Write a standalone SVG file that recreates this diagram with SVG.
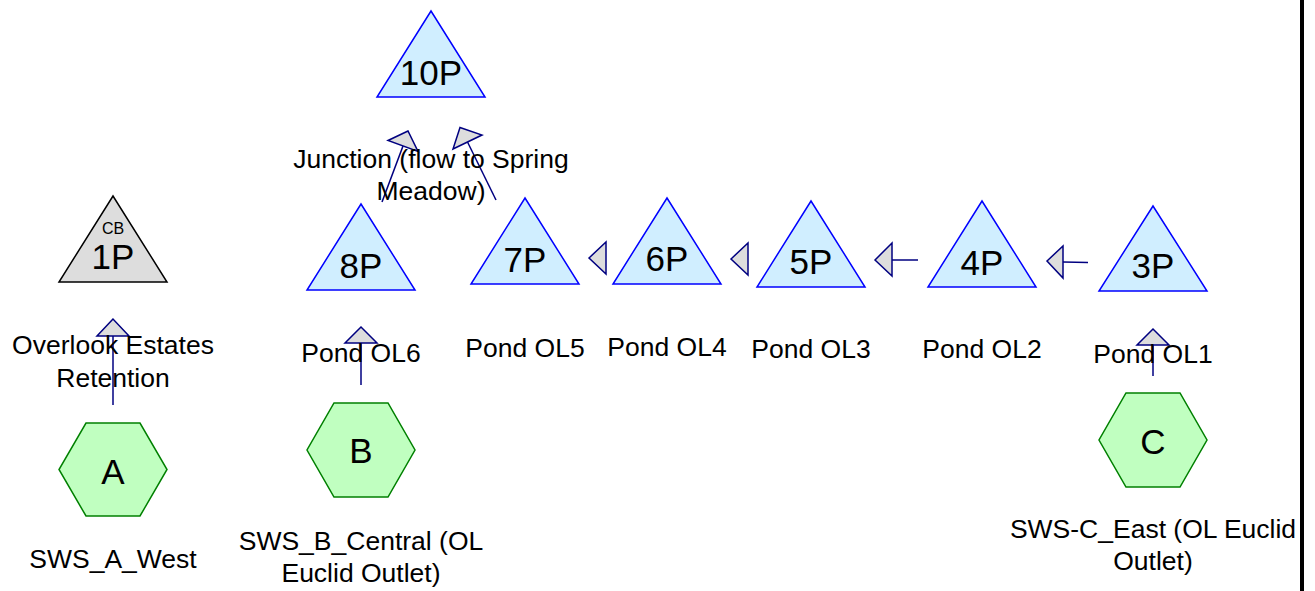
<svg xmlns="http://www.w3.org/2000/svg" width="1315" height="591" viewBox="0 0 1315 591">
<style>
text{font-family:"Liberation Sans",Arial,sans-serif;fill:#000;text-anchor:middle}
.pond{fill:#d0eeff;stroke:#0000ff;stroke-width:1.5}
.cb{fill:#dddddd;stroke:#000;stroke-width:1.5}
.sub{fill:#c0ffc0;stroke:#008000;stroke-width:1.5}
.nl{font-size:35px}
.lb{font-size:26.5px}
.small{font-size:16px}
.ln{stroke:#000080;stroke-width:1.5;fill:none}
.ah{fill:#dddddd;stroke:#000080;stroke-width:1.5;stroke-linejoin:miter}
</style>
<rect x="0" y="0" width="1315" height="591" fill="#fff"/>
<rect x="1300" y="0" width="4" height="591" fill="#000"/>

<g id="connectors">
  <g id="A-1P"><line class="ln" x1="113" y1="405" x2="113" y2="336"/><polygon class="ah" points="113,319 97,336 129,336"/></g>
  <g id="B-8P"><line class="ln" x1="361" y1="385" x2="361" y2="343"/><polygon class="ah" points="361,327 345,343 377,343"/></g>
  <g id="C-3P"><line class="ln" x1="1153" y1="376" x2="1153" y2="345"/><polygon class="ah" points="1153,329 1137,345 1169,345"/></g>
  <g id="3P-4P"><line class="ln" x1="1088" y1="262.5" x2="1063" y2="262"/><polygon class="ah" points="1047,261 1063,246 1063,278"/></g>
  <g id="4P-5P"><line class="ln" x1="918" y1="260" x2="892" y2="260"/><polygon class="ah" points="875,260 892,243 892,276"/></g>
  <g id="5P-6P"><polygon class="ah" points="731,259 748,243 748,275"/></g>
  <g id="6P-7P"><polygon class="ah" points="589,258 606,242 606,274"/></g>
  <g id="8P-10P"><line class="ln" x1="382" y1="202" x2="403" y2="146"/><polygon class="ah" points="408,131 388,140.5 418,151.5"/></g>
  <g id="7P-10P"><line class="ln" x1="496" y1="200" x2="467.5" y2="142"/><polygon class="ah" points="460,127.5 453,149 482,135"/></g>
</g>

<g id="node-10P">
  <polygon class="pond" points="431,11 485,97 377,97"/>
  <text class="nl" x="431" y="85">10P</text>
  <text class="lb" x="431" y="168">Junction (flow to Spring</text>
  <text class="lb" x="431" y="200">Meadow)</text>
</g>
<g id="node-1P">
  <polygon class="cb" points="113,196 167,282 59,282"/>
  <text class="small" x="113" y="234">CB</text>
  <text class="nl" x="113" y="269">1P</text>
  <text class="lb" x="113" y="354">Overlook Estates</text>
  <text class="lb" x="113" y="387">Retention</text>
</g>
<g id="node-8P">
  <polygon class="pond" points="361,204 415,290 307,290"/>
  <text class="nl" x="361" y="278">8P</text>
  <text class="lb" x="361" y="362">Pond OL6</text>
</g>
<g id="node-7P">
  <polygon class="pond" points="525,198 579,284 471,284"/>
  <text class="nl" x="525" y="272">7P</text>
  <text class="lb" x="525" y="357">Pond OL5</text>
</g>
<g id="node-6P">
  <polygon class="pond" points="667,198 721,284 613,284"/>
  <text class="nl" x="667" y="271">6P</text>
  <text class="lb" x="667" y="356">Pond OL4</text>
</g>
<g id="node-5P">
  <polygon class="pond" points="811,201 865,287 757,287"/>
  <text class="nl" x="811" y="274">5P</text>
  <text class="lb" x="811" y="358">Pond OL3</text>
</g>
<g id="node-4P">
  <polygon class="pond" points="982,201 1036,287 928,287"/>
  <text class="nl" x="982" y="275">4P</text>
  <text class="lb" x="982" y="358">Pond OL2</text>
</g>
<g id="node-3P">
  <polygon class="pond" points="1153,206 1207,291 1099,291"/>
  <text class="nl" x="1153" y="278">3P</text>
  <text class="lb" x="1153" y="363">Pond OL1</text>
</g>
<g id="node-A">
  <polygon class="sub" points="86,423 140,423 167,469.5 140,516 86,516 59,469.5"/>
  <text class="nl" x="113" y="484">A</text>
  <text class="lb" x="113" y="568">SWS_A_West</text>
</g>
<g id="node-B">
  <polygon class="sub" points="334,403 388,403 415,450 388,497 334,497 307,450"/>
  <text class="nl" x="361" y="463">B</text>
  <text class="lb" x="361" y="550">SWS_B_Central (OL</text>
  <text class="lb" x="361" y="582">Euclid Outlet)</text>
</g>
<g id="node-C">
  <polygon class="sub" points="1126,393 1180,393 1207,440 1180,487 1126,487 1099,440"/>
  <text class="nl" x="1153" y="454">C</text>
  <text class="lb" x="1153" y="538">SWS-C_East (OL Euclid</text>
  <text class="lb" x="1153" y="570">Outlet)</text>
</g>
</svg>
